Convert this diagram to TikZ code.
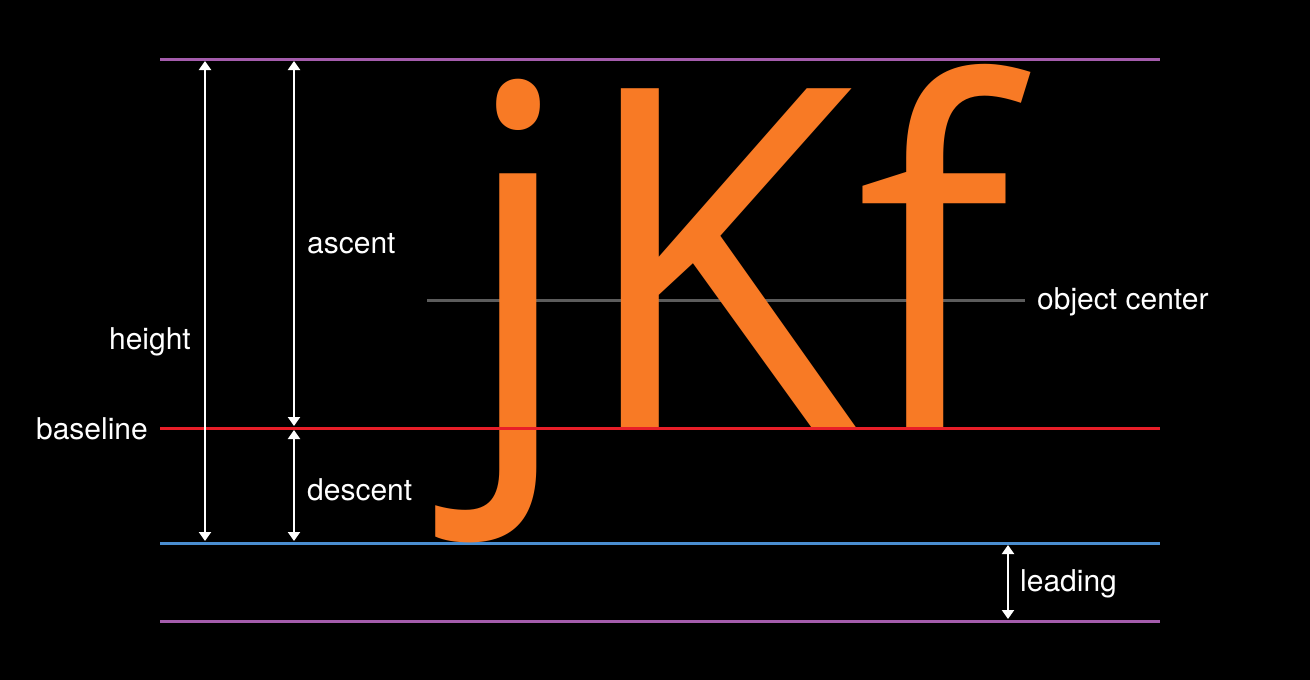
\documentclass[tikz,border=0pt]{standalone}
\usepackage{fontspec}
\setmainfont{TeX Gyre Heros}
\newfontfamily\glyphfont{Open Sans}
\usetikzlibrary{arrows.meta}
\definecolor{lineviolet}{RGB}{164,92,172}
\definecolor{linered}{RGB}{232,30,40}
\definecolor{lineblue}{RGB}{74,142,208}
\definecolor{linegray}{RGB}{92,92,92}
\definecolor{glyphorange}{RGB}{248,122,37}

\begin{document}
\begin{tikzpicture}[x=1pt,y=-1pt,
  guide/.style={line width=3pt},
  measure/.style={white,line width=2pt,{Triangle[width=12pt,length=9pt]}-{Triangle[width=12pt,length=9pt]}},
  lbl/.style={white,font=\fontsize{30}{30}\selectfont,inner sep=0pt}]
\fill[black] (0,0) rectangle (1310,680);
\useasboundingbox (0,0) rectangle (1310,680);
%guide lines
\coordinate (topL) at (160,59);   \coordinate (topR) at (1160,59);
\coordinate (baseL) at (160,428); \coordinate (baseR) at (1160,428);
\coordinate (botL) at (160,543);  \coordinate (botR) at (1160,543);
\coordinate (leadL) at (160,621); \coordinate (leadR) at (1160,621);
\coordinate (midL) at (427,300);  \coordinate (midR) at (1025,300);
\draw[guide,lineviolet] (topL) -- (topR);
\draw[guide,lineviolet] (leadL) -- (leadR);
\draw[guide,lineblue] (botL) -- (botR);
\draw[line width=3pt,linegray] (midL) -- (midR);
%the glyphs
\node[anchor=base,inner sep=0pt,text=glyphorange,xscale=0.96,transform shape,
  font=\glyphfont\fontsize{476}{476}\selectfont] (glyphs) at (736,428) {jKf};
\draw[guide,linered] (baseL) -- (baseR);
%measures
\coordinate (h1) at (205,61);  \coordinate (h2) at (205,541);
\coordinate (a1) at (294,61);  \coordinate (a2) at (294,426);
\coordinate (d1) at (294,430); \coordinate (d2) at (294,541);
\coordinate (l1) at (1008,545); \coordinate (l2) at (1008,619);
\draw[measure] (h1) -- (h2);
\draw[measure] (a1) -- (a2);
\draw[measure] (d1) -- (d2);
\draw[measure] (l1) -- (l2);
%labels
\node[lbl,anchor=east] (height) at (191,342) {height};
\node[lbl,anchor=east] (baseline) at (148,429) {baseline};
\node[lbl,anchor=west] (ascent) at (307,244) {ascent};
\node[lbl,anchor=west] (descent) at (307,490) {descent};
\node[lbl,anchor=west] (leading) at (1020,584) {leading};
\node[lbl,anchor=west] (center) at (1037,302) {object center};
\end{tikzpicture}
\end{document}
